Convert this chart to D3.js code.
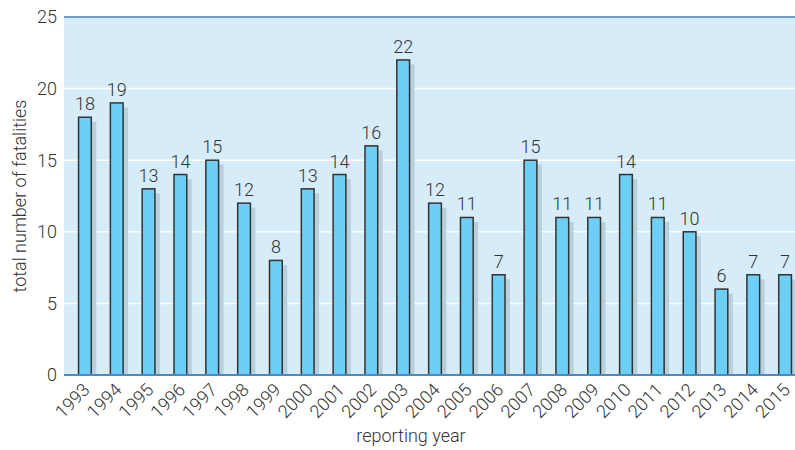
<!DOCTYPE html>
<html><head><meta charset="utf-8">
<script src="https://cdn.jsdelivr.net/npm/d3@7"></script>
<style>body{margin:0;background:#fff;}svg{display:block;font-family:Roboto,"Liberation Sans",sans-serif;font-weight:300;}</style>
</head><body>
<svg id="c" width="795" height="450"></svg>
<script>
const years = ["1993","1994","1995","1996","1997","1998","1999","2000","2001","2002","2003","2004","2005","2006","2007","2008","2009","2010","2011","2012","2013","2014","2015"];
const fatalities = [18,19,13,14,15,12,8,13,14,16,22,12,11,7,15,11,11,14,11,10,6,7,7];
const yTicks = [0,5,10,15,20,25];
const xTitle = "reporting year";
const yTitle = "total number of fatalities";

const svg = d3.select("#c");
const plot = {left:64, right:795, top:17, bottom:375};
const x = d3.scaleBand().domain(years).range([69, 801]).paddingInner(0.6).paddingOuter(0.3);
const y = d3.scaleLinear().domain([0,25]).range([plot.bottom, plot.top]);

svg.append("rect").attr("x",plot.left).attr("y",plot.top).attr("width",plot.right-plot.left).attr("height",plot.bottom-plot.top).attr("fill","#d6edf9");

svg.append("g").selectAll("line").data(yTicks.filter(d=>d>0&&d<25)).join("line")
  .attr("x1",plot.left).attr("x2",plot.right).attr("y1",d=>y(d)).attr("y2",d=>y(d))
  .attr("stroke","#fff").attr("stroke-width",1.5);

const data = years.map((yr,i)=>({yr, v:fatalities[i]}));
const bw = x.bandwidth();
svg.append("g").selectAll("rect").data(data).join("rect")
  .attr("x",d=>x(d.yr)+5).attr("y",d=>y(d.v)+4.5).attr("width",bw).attr("height",d=>plot.bottom-y(d.v)-4.5)
  .attr("fill","#b9cfda");
svg.append("g").selectAll("rect").data(data).join("rect")
  .attr("x",d=>x(d.yr)).attr("y",d=>y(d.v)).attr("width",bw).attr("height",d=>plot.bottom-y(d.v))
  .attr("fill","#6dcff6").attr("stroke","#333").attr("stroke-width",1.5);

svg.append("line").attr("x1",plot.left).attr("x2",plot.right).attr("y1",plot.top).attr("y2",plot.top).attr("stroke","#6a9bd1").attr("stroke-width",2);
svg.append("line").attr("x1",plot.left).attr("x2",plot.right).attr("y1",plot.bottom).attr("y2",plot.bottom).attr("stroke","#4f86c6").attr("stroke-width",2);

svg.append("g").selectAll("text").data(data).join("text")
  .attr("x",d=>x(d.yr)+bw/2).attr("y",d=>y(d.v)-7).attr("text-anchor","middle")
  .attr("font-size",18).attr("fill","#333").text(d=>d.v);

svg.append("g").selectAll("text").data(yTicks).join("text")
  .attr("x",57).attr("y",d=>y(d)).attr("dy","0.35em").attr("text-anchor","end")
  .attr("font-size",18).attr("fill","#333").text(d=>d);

svg.append("g").selectAll("text").data(years).join("text")
  .attr("transform",d=>`translate(${x(d)+bw/2-1},${plot.bottom+9}) rotate(-45)`)
  .attr("text-anchor","end").attr("dy","0.55em")
  .attr("font-size",18).attr("fill","#333").text(d=>d);

svg.append("text").attr("x",411).attr("y",442).attr("text-anchor","middle").attr("font-size",18).attr("fill","#333").text(xTitle);
svg.append("text").attr("transform",`translate(26,${(plot.top+plot.bottom)/2}) rotate(-90)`).attr("text-anchor","middle").attr("font-size",18).attr("fill","#333").text(yTitle);
</script>
</body></html>
